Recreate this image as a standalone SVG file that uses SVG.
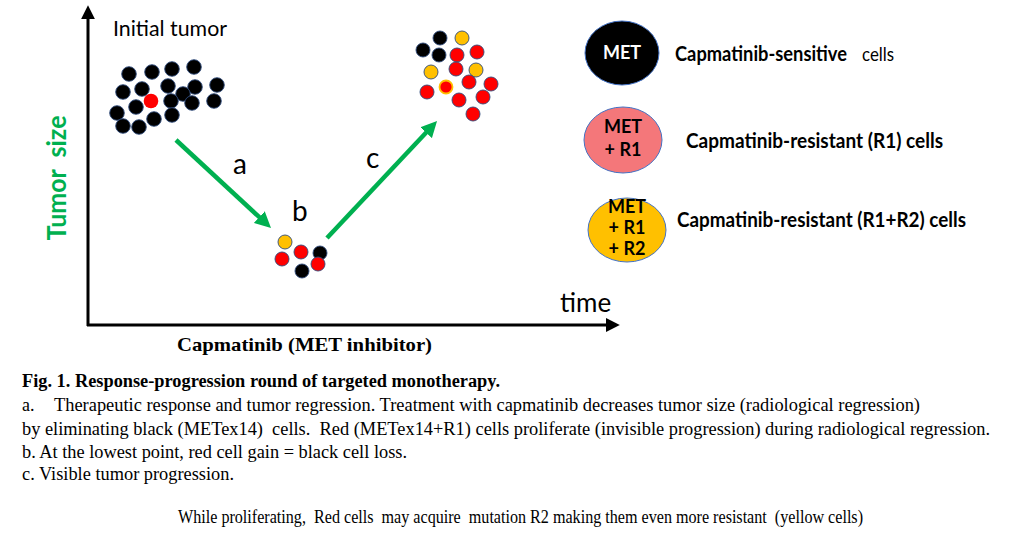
<svg xmlns="http://www.w3.org/2000/svg" width="1024" height="544" viewBox="0 0 1024 544">
<style>
.cell{stroke:#2f4b7c;stroke-width:0.9}
.blk{fill:#000}
.red{fill:#ff0000}
.yel{fill:#ffc000}
.sans{font-family:Lato,"Open Sans","Liberation Sans",sans-serif}
.serif{font-family:"Liberation Serif","Times New Roman",serif}
.lbl{font-family:Lato,"Open Sans","Liberation Sans",sans-serif;font-size:28px;fill:#000}
.leg{font-family:Lato,"Open Sans","Liberation Sans",sans-serif;font-size:20px;fill:#000}
.met{font-family:Lato,"Open Sans","Liberation Sans",sans-serif;font-size:18px;font-weight:bold;text-anchor:middle}
.cap{font-family:"Liberation Serif","Times New Roman",serif;font-size:18px;fill:#000}
.axis{stroke:#000;stroke-width:3;fill:none}
.garr{stroke:#00b050;stroke-width:4.5;fill:none}
.ell{stroke:#4472c4;stroke-width:1}
</style>
<defs>
<marker id="gh" viewBox="0 0 10 10" refX="3.75" refY="5" markerWidth="16" markerHeight="16" markerUnits="userSpaceOnUse" orient="auto">
<path d="M0,0 L10,5 L0,10 z" fill="#00b050"/>
</marker>
<marker id="kh" viewBox="0 0 10 10" refX="3" refY="5" markerWidth="14" markerHeight="16" markerUnits="userSpaceOnUse" orient="auto">
<path d="M0,0 L10,5 L0,10 z" fill="#000"/>
</marker>
</defs>
<rect width="1024" height="544" fill="#fff"/>

<g id="axes">
<line class="axis" x1="88" y1="326" x2="88" y2="15" marker-end="url(#kh)"/>
<line class="axis" x1="87" y1="325" x2="610" y2="325" marker-end="url(#kh)"/>
<text class="sans" x="560" y="312" font-size="26" fill="#000">time</text>
<text class="sans" transform="translate(66,178) rotate(-90)" font-size="26" font-weight="bold" fill="#00b050" text-anchor="middle" xml:space="preserve" textLength="125" lengthAdjust="spacingAndGlyphs">Tumor  size</text>
<text class="serif" x="177" y="351" font-size="19" font-weight="bold" fill="#000" textLength="255" lengthAdjust="spacingAndGlyphs">Capmatinib (MET inhibitor)</text>
</g>

<g id="initial-tumor">
<text class="sans" x="113" y="36" font-size="21" fill="#000" textLength="114" lengthAdjust="spacingAndGlyphs">Initial tumor</text>
<circle class="cell blk" cx="129" cy="74" r="7.3"/>
<circle class="cell blk" cx="152" cy="72" r="7.3"/>
<circle class="cell blk" cx="172" cy="69" r="7.3"/>
<circle class="cell blk" cx="194" cy="67" r="7.3"/>
<circle class="cell blk" cx="123" cy="92" r="7.3"/>
<circle class="cell blk" cx="142" cy="89" r="7.3"/>
<circle class="cell blk" cx="168" cy="86" r="7.3"/>
<circle class="cell blk" cx="195" cy="87" r="7.3"/>
<circle class="cell blk" cx="217" cy="85" r="7.3"/>
<circle class="cell blk" cx="183" cy="94" r="7.3"/>
<circle class="cell blk" cx="171" cy="101" r="7.3"/>
<circle class="cell blk" cx="192" cy="103" r="7.3"/>
<circle class="cell blk" cx="214" cy="101" r="7.3"/>
<circle class="cell blk" cx="136" cy="107" r="7.3"/>
<circle class="cell blk" cx="117" cy="113" r="7.3"/>
<circle class="cell blk" cx="154" cy="119" r="7.3"/>
<circle class="cell blk" cx="172" cy="115" r="7.3"/>
<circle class="cell blk" cx="123" cy="126" r="7.3"/>
<circle class="cell blk" cx="139" cy="127" r="7.3"/>
<circle cx="151" cy="101" r="7.3" fill="#ff0000"/>
</g>

<g id="lowest-point">
<circle class="cell yel" cx="285" cy="242" r="7"/>
<circle class="cell red" cx="301" cy="252" r="7"/>
<circle class="cell blk" cx="320" cy="253" r="7"/>
<circle class="cell red" cx="282" cy="259" r="7"/>
<circle class="cell red" cx="318" cy="264" r="7"/>
<circle class="cell blk" cx="302" cy="271" r="7"/>
</g>

<g id="progressed-tumor">
<circle class="cell blk" cx="440" cy="38" r="7"/>
<circle class="cell yel" cx="462" cy="38" r="7"/>
<circle class="cell blk" cx="423" cy="50" r="7"/>
<circle class="cell blk" cx="439" cy="55" r="7"/>
<circle class="cell red" cx="457" cy="55" r="7"/>
<circle class="cell red" cx="477" cy="52" r="7"/>
<circle class="cell yel" cx="431" cy="72" r="7"/>
<circle class="cell red" cx="456" cy="69" r="7"/>
<circle class="cell yel" cx="476" cy="70" r="7"/>
<circle class="cell red" cx="469" cy="82" r="7"/>
<circle class="cell red" cx="491" cy="84" r="7"/>
<circle cx="446" cy="87" r="6.5" fill="#ff0000" stroke="#ffc000" stroke-width="1.8"/>
<circle class="cell red" cx="427" cy="92" r="7"/>
<circle class="cell red" cx="483" cy="97" r="7"/>
<circle class="cell red" cx="459" cy="100" r="7"/>
<circle class="cell red" cx="473" cy="114" r="7"/>
</g>

<g id="connectors">
<line class="garr" x1="176" y1="140" x2="263.7" y2="221.2" marker-end="url(#gh)"/>
<line class="garr" x1="327" y1="238" x2="430.2" y2="128.3" marker-end="url(#gh)"/>
<text class="lbl" x="233" y="174">a</text>
<text class="lbl" x="292" y="221">b</text>
<text class="lbl" x="366" y="168">c</text>
</g>

<g id="legend-sensitive">
<ellipse cx="622" cy="53" rx="37" ry="32" fill="#000" class="ell"/>
<text class="leg" x="675" y="61" font-size="18" font-weight="bold" textLength="172" lengthAdjust="spacingAndGlyphs">Capmatinib-sensitive</text>
<text class="leg" x="862" y="61" textLength="32" lengthAdjust="spacingAndGlyphs">cells</text>
<text class="met" x="622" y="59" fill="#fff">MET</text>
</g>

<g id="legend-r1">
<ellipse cx="623" cy="140" rx="39" ry="33" fill="#f4777a" class="ell"/>
<text class="met" x="623" y="133" fill="#000">MET</text>
<text class="met" x="623" y="156" fill="#000">+ R1</text>
<text class="leg" x="686" y="148" font-weight="bold" textLength="257" lengthAdjust="spacingAndGlyphs">Capmatinib-resistant (R1) cells</text>
</g>

<g id="legend-r1r2">
<ellipse cx="627" cy="230" rx="39" ry="32" fill="#ffc000" class="ell"/>
<text class="met" x="627" y="213" fill="#000">MET</text>
<text class="met" x="627" y="234" fill="#000">+ R1</text>
<text class="met" x="627" y="255" fill="#000">+ R2</text>
<text class="leg" x="677" y="227" font-weight="bold" textLength="289" lengthAdjust="spacingAndGlyphs">Capmatinib-resistant (R1+R2) cells</text>
</g>

<g id="caption">
<text class="cap" x="22" y="387" font-weight="bold" textLength="478" lengthAdjust="spacingAndGlyphs">Fig. 1. Response-progression round of targeted monotherapy.</text>
<text class="cap" x="22" y="411">a.</text>
<text class="cap" x="54" y="411" textLength="866" lengthAdjust="spacingAndGlyphs">Therapeutic response and tumor regression. Treatment with capmatinib decreases tumor size (radiological regression)</text>
<text class="cap" x="22" y="435" xml:space="preserve" textLength="968" lengthAdjust="spacingAndGlyphs">by eliminating black (METex14)  cells.  Red (METex14+R1) cells proliferate (invisible progression) during radiological regression.</text>
<text class="cap" x="22" y="458" textLength="385" lengthAdjust="spacingAndGlyphs">b. At the lowest point, red cell gain = black cell loss.</text>
<text class="cap" x="22" y="480" textLength="212" lengthAdjust="spacingAndGlyphs">c. Visible tumor progression.</text>
<text class="cap" x="178" y="523" font-size="17" xml:space="preserve" textLength="685" lengthAdjust="spacingAndGlyphs">While proliferating,  Red cells  may acquire  mutation R2 making them even more resistant  (yellow cells)</text>
</g>
</svg>
